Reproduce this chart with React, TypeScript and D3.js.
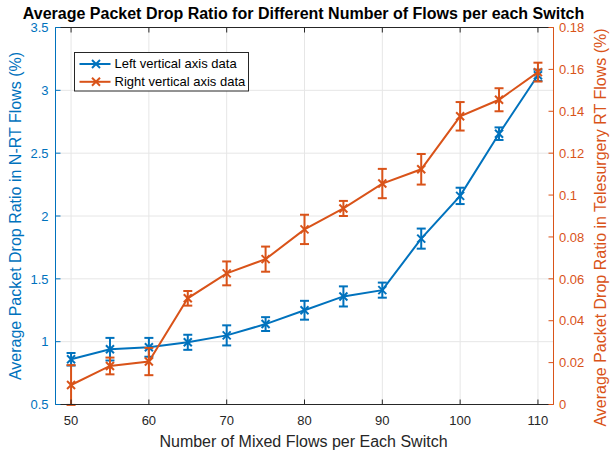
import React from "react";
import * as d3 from "d3";

const flows = [50, 55, 60, 65, 70, 75, 80, 85, 90, 95, 100, 105, 110];
const leftValues = [0.86, 0.94, 0.955, 0.995, 1.05, 1.14, 1.25, 1.36, 1.41, 1.82, 2.16, 2.655, 3.12];
const leftErrors = [0.05, 0.09, 0.075, 0.06, 0.08, 0.055, 0.075, 0.08, 0.06, 0.08, 0.065, 0.05, 0.045];
const rightValues = [0.0093, 0.0184, 0.0205, 0.0507, 0.0626, 0.0694, 0.0836, 0.0936, 0.1055, 0.1123, 0.1376, 0.1455, 0.1587];
const rightErrors = [0.0095, 0.004, 0.0065, 0.0035, 0.0057, 0.006, 0.007, 0.0036, 0.007, 0.0073, 0.0068, 0.0055, 0.0045];
const xTicks = [50, 60, 70, 80, 90, 100, 110];
const leftTicks = [0.5, 1, 1.5, 2, 2.5, 3, 3.5];
const rightTicks = [0, 0.02, 0.04, 0.06, 0.08, 0.1, 0.12, 0.14, 0.16, 0.18];
const seriesNames = ["Left vertical axis data", "Right vertical axis data"];

const BLUE = "#0072BD";
const ORANGE = "#D95319";
const FONT = "'Liberation Sans', Arial, Helvetica, sans-serif";

export default function App() {
  const W = 610, H = 453;
  const m = { left: 55.5, right: 553.5, top: 27.5, bottom: 404.5 };
  const x = d3.scaleLinear().domain([48, 112]).range([m.left, m.right]);
  const yL = d3.scaleLinear().domain([0.5, 3.5]).range([m.bottom, m.top]);
  const yR = d3.scaleLinear().domain([0, 0.18]).range([m.bottom, m.top]);

  const series = [
    { vals: leftValues, errs: leftErrors, y: yL, color: BLUE },
    { vals: rightValues, errs: rightErrors, y: yR, color: ORANGE },
  ];

  const tickLen = 5;
  const capW = 4.5;
  const mk = 4;

  return (
    <svg width={W} height={H} style={{ position: "absolute", left: 0, top: 0, background: "#fff" }} fontFamily={FONT}>
      <rect x={0} y={0} width={W} height={H} fill="#fff" />
      {/* grid */}
      {xTicks.map((t) => (
        <line key={"gx" + t} x1={x(t)} x2={x(t)} y1={m.top} y2={m.bottom} stroke="#e6e6e6" strokeWidth={1} />
      ))}
      {leftTicks.map((t) => (
        <line key={"gy" + t} x1={m.left} x2={m.right} y1={yL(t)} y2={yL(t)} stroke="#e6e6e6" strokeWidth={1} />
      ))}
      {/* series */}
      {series.map((s, si) => {
        const line = d3.line<number>().x((_, i) => x(flows[i])).y((v) => s.y(v));
        return (
          <g key={"s" + si}>
            <path d={line(s.vals) || ""} fill="none" stroke={s.color} strokeWidth={2} />
            {s.vals.map((v, i) => {
              const cx = x(flows[i]);
              const top = s.y(v + s.errs[i]);
              const bot = s.y(v - s.errs[i]);
              const cy = s.y(v);
              return (
                <g key={i} stroke={s.color} strokeWidth={2} fill="none">
                  <line x1={cx} x2={cx} y1={top} y2={bot} />
                  <line x1={cx - capW} x2={cx + capW} y1={top} y2={top} />
                  <line x1={cx - capW} x2={cx + capW} y1={bot} y2={bot} />
                  <line x1={cx - mk} x2={cx + mk} y1={cy - mk} y2={cy + mk} />
                  <line x1={cx - mk} x2={cx + mk} y1={cy + mk} y2={cy - mk} />
                </g>
              );
            })}
          </g>
        );
      })}
      {/* axes frame */}
      <line x1={m.left} x2={m.right} y1={m.bottom} y2={m.bottom} stroke="#262626" strokeWidth={1} />
      <line x1={m.left} x2={m.right} y1={m.top} y2={m.top} stroke="#262626" strokeWidth={1} />
      <line x1={m.left} x2={m.left} y1={m.top} y2={m.bottom} stroke={BLUE} strokeWidth={1} />
      <line x1={m.right} x2={m.right} y1={m.top} y2={m.bottom} stroke={ORANGE} strokeWidth={1} />
      {xTicks.map((t) => (
        <g key={"xt" + t}>
          <line x1={x(t)} x2={x(t)} y1={m.bottom} y2={m.bottom - tickLen} stroke="#262626" />
          <line x1={x(t)} x2={x(t)} y1={m.top} y2={m.top + tickLen} stroke="#262626" />
          <text x={x(t)} y={425} textAnchor="middle" fontSize={13} fill="#262626">{t}</text>
        </g>
      ))}
      {leftTicks.map((t) => (
        <g key={"lt" + t}>
          <line x1={m.left} x2={m.left + tickLen} y1={yL(t)} y2={yL(t)} stroke={BLUE} />
          <text x={m.left - 7} y={yL(t) + 4.7} textAnchor="end" fontSize={13} fill={BLUE}>{d3.format("~g")(t)}</text>
        </g>
      ))}
      {rightTicks.map((t) => (
        <g key={"rt" + t}>
          <line x1={m.right} x2={m.right - tickLen} y1={yR(t)} y2={yR(t)} stroke={ORANGE} />
          <text x={m.right + 5.5} y={yR(t) + 4.7} textAnchor="start" fontSize={13} fill={ORANGE}>{d3.format("~g")(t)}</text>
        </g>
      ))}
      {/* labels */}
      <text x={303.5} y={18.5} textAnchor="middle" fontSize={16} fontWeight="bold" fill="#000">
        Average Packet Drop Ratio for Different Number of Flows per each Switch
      </text>
      <text x={303.5} y={446.5} textAnchor="middle" fontSize={16} fill="#262626">Number of Mixed Flows per Each Switch</text>
      <text transform={`translate(21,216) rotate(-90)`} textAnchor="middle" fontSize={16} fill={BLUE}>
        Average Packet Drop Ratio in N-RT Flows (%)
      </text>
      <text transform={`translate(606,227.5) rotate(-90)`} textAnchor="middle" fontSize={16} fill={ORANGE}>
        Average Packet Drop Ratio in Telesurgery RT Flows (%)
      </text>
      {/* legend */}
      <rect x={74.5} y={52.5} width={174} height={38.5} fill="#fff" stroke="#262626" strokeWidth={1} />
      {[BLUE, ORANGE].map((c, i) => {
        const ly = 64 + i * 17.8;
        return (
          <g key={"lg" + i}>
            <line x1={79.5} x2={110.5} y1={ly} y2={ly} stroke={c} strokeWidth={2} />
            <line x1={96 - mk} x2={96 + mk} y1={ly - mk} y2={ly + mk} stroke={c} strokeWidth={2} />
            <line x1={96 - mk} x2={96 + mk} y1={ly + mk} y2={ly - mk} stroke={c} strokeWidth={2} />
            <text x={114.5} y={ly + 4} fontSize={13} fill="#000">{seriesNames[i]}</text>
          </g>
        );
      })}
    </svg>
  );
}
